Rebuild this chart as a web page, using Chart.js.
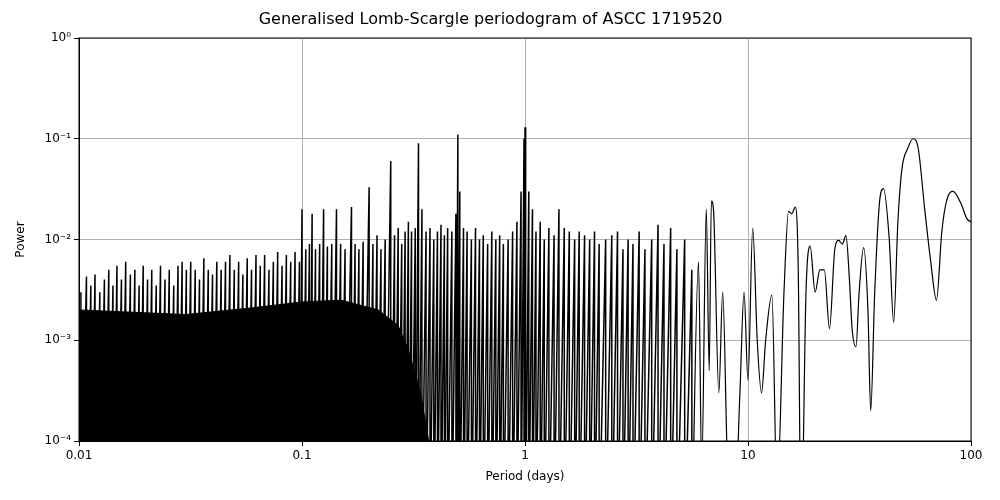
<!DOCTYPE html>
<html>
<head>
<meta charset="utf-8">
<script src="https://cdn.jsdelivr.net/npm/chart.js@4"></script>
<style>
  body { margin: 0; background: #fff; }
  #wrap { width: 1000px; height: 500px; }
</style>
</head>
<body>
<div id="wrap"><canvas id="c"></canvas></div>
<script>
// solid black floor of the dense noise (period, power)
const basePeriods = [0.01, 0.03, 0.06, 0.1, 0.15, 0.22, 0.27, 0.3, 0.34, 0.37];
const basePower = [0.002, 0.0018, 0.0021, 0.0024, 0.0025, 0.002, 0.0014, 0.0008, 0.0003, 0.0001];

// spiky noise peaks, each followed by a drop below the axis
const dipLevel = 0.00001;
const noisePeriods = [0.0102, 0.0108, 0.0113, 0.0118, 0.0124, 0.013, 0.0136, 0.0142, 0.0148, 0.0155,
  0.0162, 0.017, 0.0178, 0.0186, 0.0194, 0.0203, 0.0212, 0.0222, 0.0232, 0.0243,
  0.0254, 0.0266, 0.0278, 0.029, 0.0303, 0.0317, 0.0332, 0.0347, 0.0363, 0.038,
  0.0397, 0.0415, 0.0434, 0.0454, 0.0475, 0.0497, 0.052, 0.0543, 0.0568, 0.0594,
  0.0622, 0.065, 0.068, 0.0711, 0.0744, 0.0778, 0.0814, 0.0851, 0.089, 0.0931, 0.0974,
  0.1, 0.104, 0.108, 0.111, 0.115, 0.12, 0.125, 0.13, 0.136, 0.1428, 0.149, 0.156, 0.1667,
  0.173, 0.18, 0.188, 0.2, 0.208, 0.217, 0.226, 0.236, 0.25, 0.26, 0.27, 0.28, 0.29, 0.3,
  0.31, 0.322, 0.333, 0.345, 0.36, 0.375, 0.39, 0.405, 0.42, 0.435, 0.45, 0.47, 0.49, 0.5,
  0.51, 0.53, 0.55, 0.575, 0.6, 0.625, 0.65, 0.68, 0.71, 0.74, 0.77, 0.8, 0.84, 0.88, 0.92,
  0.96, 0.99, 1.0, 1.01, 1.04, 1.08, 1.12, 1.17, 1.22, 1.28, 1.35, 1.42, 1.5, 1.58, 1.67,
  1.75, 1.85, 1.95, 2.05, 2.15, 2.3, 2.45, 2.6, 2.75, 2.9, 3.05, 3.25, 3.45, 3.7, 3.95,
  4.2, 4.5, 4.8, 5.2, 5.6];
const noisePeaks = [0.003, 0.0043, 0.0035, 0.0045, 0.003, 0.004, 0.005, 0.0035, 0.0055, 0.004,
  0.006, 0.0045, 0.005, 0.0035, 0.0055, 0.004, 0.005, 0.0035, 0.0055, 0.004,
  0.005, 0.0035, 0.0055, 0.006, 0.005, 0.006, 0.005, 0.004, 0.0065, 0.005,
  0.0045, 0.006, 0.005, 0.006, 0.007, 0.005, 0.006, 0.0045, 0.0065, 0.005,
  0.007, 0.0055, 0.007, 0.005, 0.006, 0.0075, 0.0055, 0.007, 0.006, 0.0075, 0.006,
  0.02, 0.008, 0.009, 0.018, 0.008, 0.009, 0.02, 0.0085, 0.009, 0.02, 0.009, 0.008, 0.021,
  0.009, 0.008, 0.0095, 0.033, 0.009, 0.011, 0.008, 0.01, 0.06, 0.011, 0.013, 0.009, 0.012, 0.015,
  0.012, 0.013, 0.09, 0.02, 0.012, 0.013, 0.01, 0.012, 0.014, 0.011, 0.013, 0.012, 0.018, 0.11,
  0.03, 0.013, 0.012, 0.01, 0.013, 0.01, 0.011, 0.009, 0.012, 0.01, 0.011, 0.009, 0.01, 0.012, 0.015,
  0.03, 0.1, 0.13, 0.09, 0.03, 0.02, 0.012, 0.015, 0.01, 0.013, 0.011, 0.02, 0.013, 0.012, 0.01,
  0.012, 0.011, 0.01, 0.012, 0.009, 0.01, 0.011, 0.012, 0.008, 0.01, 0.009, 0.012, 0.008, 0.01, 0.014,
  0.009, 0.013, 0.008, 0.01, 0.005];

// smooth long-period part
const smoothPeriods = [5.6, 6.0, 6.2, 6.5, 6.7, 6.85, 7.0, 7.4, 7.7, 8.1, 8.6, 9.2, 9.6, 10.0, 10.5, 11,
  11.5, 12, 12.8, 13.5, 14.5, 15.2, 15.7, 16.3, 16.8, 17.3, 18.2, 19, 20, 21, 22, 23.2, 24.5,
  25.5, 26.5, 27.5, 28.5, 29.3, 30.5, 31.5, 33, 34.5, 35.5, 37, 39, 40.5, 43, 45, 47, 49, 52,
  55, 58, 62, 66, 70, 74, 78, 83, 90, 96, 100];
const smoothPower = [0.00001, 0.006, 0.00005, 0.02, 0.0005, 0.024, 0.02, 0.0003, 0.003, 0.00005, 0.00001,
  0.0003, 0.003, 0.0004, 0.013, 0.001, 0.0003, 0.001, 0.0028, 0.00003, 0.003, 0.019, 0.018,
  0.021, 0.005, 0.00001, 0.003, 0.0086, 0.003, 0.005, 0.005, 0.0013, 0.008, 0.0098, 0.009,
  0.011, 0.004, 0.0013, 0.00086, 0.003, 0.0083, 0.002, 0.0002, 0.003, 0.025, 0.032, 0.01,
  0.0015, 0.015, 0.05, 0.08, 0.1, 0.08, 0.02, 0.006, 0.0025, 0.012, 0.025, 0.03, 0.023, 0.016, 0.015];

const xTicks = [0.01, 0.1, 1, 10, 100];
const xLabels = ['0.01', '0.1', '1', '10', '100'];
const yTicks = [0.0001, 0.001, 0.01, 0.1, 1];
const yLabels = ['10\u207B\u2074', '10\u207B\u00B3', '10\u207B\u00B2', '10\u207B\u00B9', '10\u2070'];

const noisePts = [];
noisePeriods.forEach((p, i) => {
  noisePts.push({x: p, y: noisePeaks[i]});
  noisePts.push({x: p, y: dipLevel});
});
const smoothPts = smoothPeriods.map((p, i) => ({x: p, y: smoothPower[i]}));
const basePts = basePeriods.map((p, i) => ({x: p, y: basePower[i]}));

const font = {family: 'DejaVu Sans', size: 12};

new Chart(document.getElementById('c'), {
  type: 'scatter',
  data: {
    datasets: [
      {data: basePts, showLine: true, borderWidth: 1, borderColor: '#000', backgroundColor: '#000', fill: 'start', pointRadius: 0, tension: 0},
      {data: noisePts, showLine: true, borderWidth: 1.5, borderColor: '#000', pointRadius: 0, tension: 0},
      {data: smoothPts, showLine: true, borderWidth: 1.2, borderColor: '#000', pointRadius: 0, cubicInterpolationMode: 'monotone'}
    ]
  },
  options: {
    responsive: true,
    maintainAspectRatio: false,
    animation: false,
    layout: {padding: {left: 10, right: 29, top: 0, bottom: 12}},
    plugins: {
      legend: {display: false},
      tooltip: {enabled: false},
      title: {display: true, text: 'Generalised Lomb-Scargle periodogram of ASCC 1719520', color: '#000',
        font: {family: 'DejaVu Sans', size: 16, weight: 'normal', lineHeight: 1.2}, padding: {top: 10, bottom: 8.8}}
    },
    scales: {
      x: {
        type: 'logarithmic', min: 0.01, max: 100,
        afterBuildTicks: ax => { ax.ticks = xTicks.map(v => ({value: v})); },
        afterFit: ax => { ax.height = 47; },
        ticks: {color: '#000', font: font, maxRotation: 0, autoSkip: false,
          callback: v => xLabels[xTicks.indexOf(v)]},
        grid: {color: '#b0b0b0', tickColor: '#000', tickLength: 5},
        border: {color: '#000'},
        title: {display: true, text: 'Period (days)', color: '#000', font: font, padding: {top: 2}}
      },
      y: {
        type: 'logarithmic', min: 0.0001, max: 1,
        afterBuildTicks: ax => { ax.ticks = yTicks.map(v => ({value: v})); },
        afterFit: ax => { ax.width = 69; },
        ticks: {color: '#000', font: font, autoSkip: false,
          callback: v => yLabels[yTicks.indexOf(v)]},
        grid: {color: '#b0b0b0', tickColor: '#000', tickLength: 5},
        border: {color: '#000'},
        title: {display: true, text: 'Power', color: '#000', font: font}
      }
    }
  },
  plugins: [{
    id: 'frame',
    afterDraw(chart) {
      const a = chart.chartArea, ctx = chart.ctx;
      ctx.save();
      ctx.strokeStyle = '#000';
      ctx.lineWidth = 1;
      ctx.strokeRect(a.left, a.top, a.right - a.left, a.bottom - a.top);
      ctx.restore();
    }
  }]
});
</script>
</body>
</html>
